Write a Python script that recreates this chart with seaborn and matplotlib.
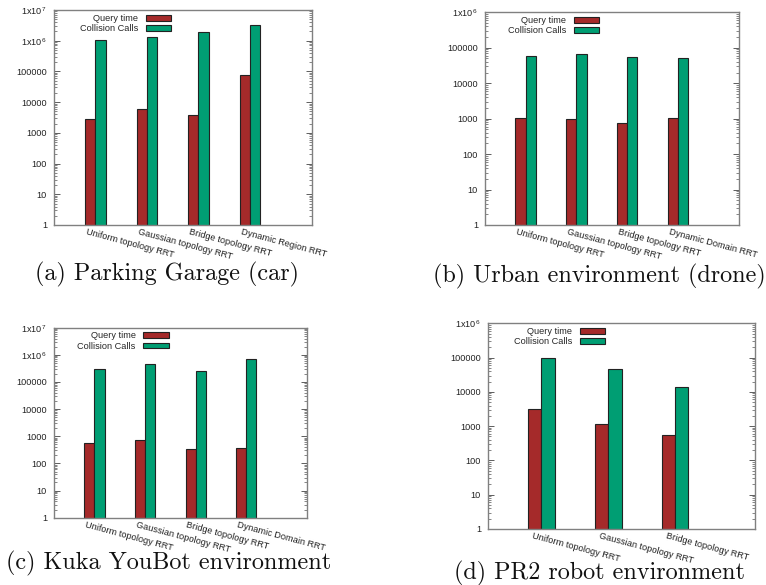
import matplotlib
matplotlib.use("Agg")
import matplotlib.pyplot as plt
import matplotlib.transforms as mtransforms
from matplotlib.ticker import FixedLocator, FixedFormatter, LogLocator, NullFormatter
import numpy as np
import pandas as pd
import seaborn as sns

# --- data -----------------------------------------------------------------
series_names = ["Query time", "Collision Calls"]

planners_a = ["Uniform topology RRT", "Gaussian topology RRT",
              "Bridge topology RRT", "Dynamic Region RRT"]
query_a = [2750, 6000, 3750, 79000]
calls_a = [1040000, 1300000, 1940000, 3200000]

planners_b = ["Uniform topology RRT", "Gaussian topology RRT",
              "Bridge topology RRT", "Dynamic Domain RRT"]
query_b = [1020, 960, 740, 1020]
calls_b = [57500, 65600, 56000, 52700]

planners_c = ["Uniform topology RRT", "Gaussian topology RRT",
              "Bridge topology RRT", "Dynamic Domain RRT"]
query_c = [580, 700, 330, 360]
calls_c = [310000, 475000, 262000, 720000]

planners_d = ["Uniform topology RRT", "Gaussian topology RRT",
              "Bridge topology RRT"]
query_d = [3170, 1130, 540]
calls_d = [95700, 45700, 13600]

captions = ["(a) Parking Garage (car)", "(b) Urban environment (drone)",
            "(c) Kuka YouBot environment", "(d) PR2 robot environment"]

RED = "#a52a2a"
GREEN = "#009e73"

sns.set_style("white")
plt.rcParams["font.family"] = ["Liberation Sans", "DejaVu Sans"]
plt.rcParams["mathtext.fontset"] = "custom"
plt.rcParams["mathtext.rm"] = "Liberation Sans"
plt.rcParams["mathtext.it"] = "Liberation Sans"

W, H = 766, 585
fig = plt.figure(figsize=(W / 100, H / 100), dpi=100)


def rect(left, right, top, bottom):
    return [left / W, 1 - bottom / H, (right - left) / W, (bottom - top) / H]


def tick_label(v):
    e = int(round(np.log10(v)))
    if e >= 6:
        return r"1x10$^{\,%d}$" % e
    return str(10 ** e)


def panel(box, planners, query, calls, top_exp, legend_x):
    ax = fig.add_axes(box)
    df = pd.DataFrame({
        "planner": planners * 2,
        "series": [series_names[0]] * len(planners) + [series_names[1]] * len(planners),
        "value": list(query) + list(calls),
    })
    sns.barplot(data=df, x="planner", y="value", hue="series",
                hue_order=series_names, order=planners,
                palette=[RED, GREEN], saturation=1, width=0.4,
                errorbar=None, edgecolor="#222222", linewidth=0.8, ax=ax)
    ax.set_yscale("log")
    ax.set_ylim(1, 10 ** top_exp)
    ax.set_xlim(-0.8, len(planners) + 0.2)
    ax.set_xlabel("")
    ax.set_ylabel("")

    majors = [10.0 ** e for e in range(0, top_exp + 1)]
    ax.yaxis.set_major_locator(FixedLocator(majors))
    ax.yaxis.set_major_formatter(FixedFormatter([tick_label(v) for v in majors]))
    ax.yaxis.set_minor_locator(LogLocator(base=10, subs=np.arange(2, 10), numticks=20))
    ax.yaxis.set_minor_formatter(NullFormatter())
    ax.tick_params(axis="y", which="major", direction="in", length=4, width=0.6,
                   left=True, right=True, labelsize=6.6, pad=5, colors="#444444",
                   labelcolor="#222222")
    ax.tick_params(axis="y", which="minor", direction="in", length=2, width=0.5,
                   left=True, right=True, colors="#555555")
    ax.tick_params(axis="x", length=0, labelsize=6.6, labelcolor="#222222", pad=2)

    ax.set_xticks(range(len(planners)))
    ax.set_xticklabels(planners, rotation=-15, ha="left", va="top",
                       rotation_mode="anchor")
    shift = mtransforms.ScaledTranslation(-8 / 100, 0, fig.dpi_scale_trans)
    for lab in ax.get_xticklabels():
        lab.set_transform(lab.get_transform() + shift)

    for sp in ax.spines.values():
        sp.set_color("#808080")
        sp.set_linewidth(1.0)

    handles, labels = ax.get_legend_handles_labels()
    ax.legend(handles, labels, loc="upper right", bbox_to_anchor=(legend_x, 0.99),
              frameon=False, markerfirst=False, fontsize=6.6,
              handlelength=2.8, handleheight=0.55, handletextpad=0.8,
              labelspacing=0.12, borderpad=0.2, borderaxespad=0)
    return ax


panel(rect(54, 312, 10, 225), planners_a, query_a, calls_a, 7, 0.462)
panel(rect(485, 739, 12.3, 225), planners_b, query_b, calls_b, 6, 0.457)
panel(rect(54, 307, 327.7, 517.7), planners_c, query_c, calls_c, 7, 0.46)
panel(rect(488, 755, 323.3, 529), planners_d, query_d, calls_d, 6, 0.446)

caption_pos = [(167, 274), (599, 276), (169, 563), (599, 573)]
for text, (cx, cy) in zip(captions, caption_pos):
    fig.text(cx / W, 1 - cy / H, text, ha="center", va="center",
             fontsize=17.4, family=["cmr10", "DejaVu Serif"], color="#111111")

fig.savefig("out.png", dpi=100)
